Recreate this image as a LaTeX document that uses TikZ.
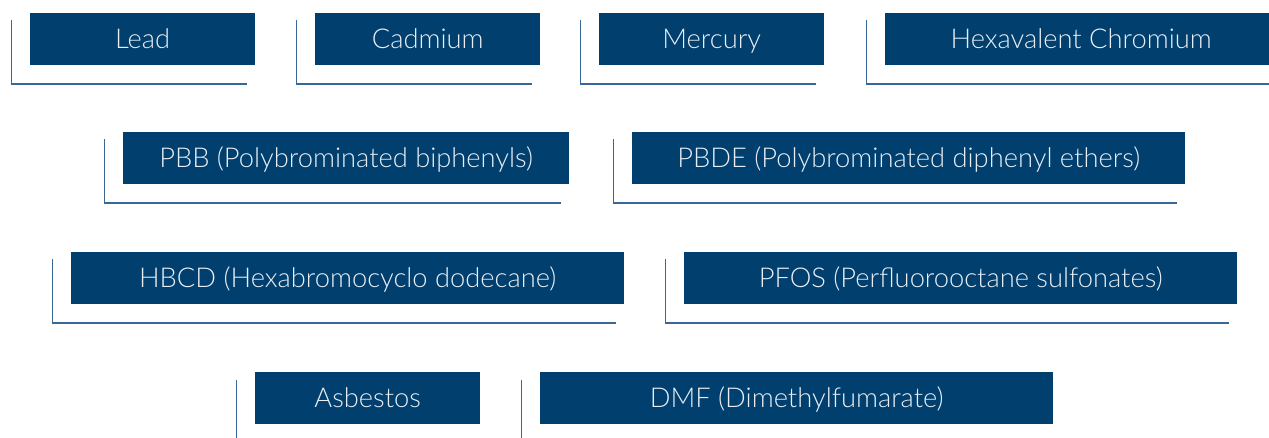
\documentclass[tikz,border=0pt]{standalone}
\usepackage{fontspec}
\setmainfont{Lato}[UprightFont=* Light]
\usetikzlibrary{calc}
\definecolor{navy}{HTML}{003F6E}
\definecolor{rulecol}{HTML}{3A6896}
\definecolor{labelcol}{HTML}{E8EEF4}

\tikzset{
  substance/.style={fill=navy, text=labelcol, anchor=north west, minimum height=52, inner sep=0pt,
    text height=25, text depth=6, font=\fontsize{27.3}{31}\selectfont},
  bracket/.style={draw=rulecol, line width=1.3pt}
}

\begin{document}
\begin{tikzpicture}[x=1pt,y=-1pt]
  \clip (0,0) rectangle (1269,438);

  % First row
  \node[substance, minimum width=225] (lead) at (30,13) {Lead};
  \node[substance, minimum width=225] (cadmium) at (315,13) {Cadmium};
  \node[substance, minimum width=225] (mercury) at (599,13) {Mercury};
  \node[substance, minimum width=392] (chromium) at (885,13) {Hexavalent Chromium};

  % Second row
  \node[substance, minimum width=446] (pbb) at (123,132) {PBB (Polybrominated biphenyls)};
  \node[substance, minimum width=553] (pbde) at (632,132) {PBDE (Polybrominated diphenyl ethers)};

  % Third row
  \node[substance, minimum width=553] (hbcd) at (71,252) {HBCD (Hexabromocyclo dodecane)};
  \node[substance, minimum width=553] (pfos) at (684,252) {PFOS (Perfluorooctane sulfonates)};

  % Fourth row
  \node[substance, minimum width=225] (asbestos) at (255,372) {Asbestos};
  \node[substance, minimum width=513] (dmf) at (540,372) {DMF (Dimethylfumarate)};

  % Brackets behind each box
  \foreach \n in {lead,cadmium,mercury,chromium,pbb,pbde,hbcd,pfos,asbestos,dmf}
    \draw[bracket] ($(\n.north west)+(-18.5,7.5)$) |- ($(\n.south east)+(-8.5,18.5)$);
\end{tikzpicture}
\end{document}
